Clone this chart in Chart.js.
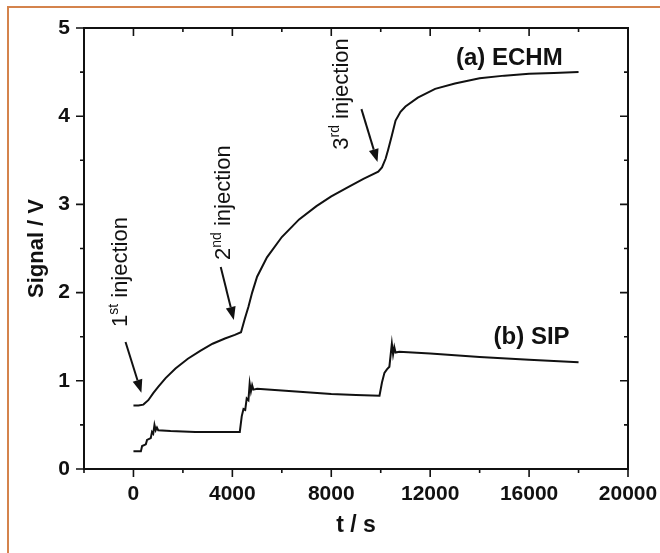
<!DOCTYPE html>
<html>
<head>
<meta charset="utf-8">
<script src="https://cdn.jsdelivr.net/npm/chart.js@4/dist/chart.umd.min.js"></script>
<style>
  html, body { margin: 0; padding: 0; background: #fff; }
  #wrap { position: relative; width: 660px; height: 553px; overflow: hidden; background: #fff; }
  #edge { position: absolute; left: 7px; top: 6px; width: 720px; height: 620px;
          border: 2px solid #d4834c; box-sizing: border-box; }
  #c { position: absolute; left: 0; top: 0; }
</style>
</head>
<body>
<div id="wrap"><div id="edge"></div><canvas id="c" width="660" height="553"></canvas></div>
<script>
// Electrochemical hydrogen monitor response, t in seconds
const echmTime = [0, 200, 400, 600, 800, 1000, 1300, 1700, 2200, 2700, 3200, 3700, 4100, 4350,
  4500, 4650, 4800, 5000, 5400, 6000, 6700, 7400, 8000, 8700, 9300, 9900, 10050,
  10200, 10300, 10450, 10600, 10800, 11000, 11500, 12200, 13000, 14000, 15000, 16000, 17000, 18000];
const echmSignal = [0.72, 0.72, 0.73, 0.78, 0.86, 0.93, 1.03, 1.14, 1.25, 1.34, 1.42, 1.48, 1.52, 1.55,
  1.70, 1.84, 2.00, 2.18, 2.40, 2.63, 2.83, 2.98, 3.09, 3.20, 3.29, 3.37, 3.42,
  3.52, 3.62, 3.78, 3.95, 4.05, 4.11, 4.21, 4.31, 4.37, 4.43, 4.46, 4.48, 4.49, 4.50];

// Solid-state sensor (SIP) response
const sipTime = [0, 300, 350, 500, 550, 700, 750, 800, 850, 900, 950, 1000, 1500, 2500, 3500, 4300,
  4380, 4450, 4520, 4580, 4650, 4700, 4750, 4800, 4850, 5000, 6000, 7000, 8000, 9000, 9950,
  10050, 10150, 10250, 10350, 10450, 10500, 10550, 10600, 10750, 12000, 14000, 16000, 18000];
const sipSignal = [0.20, 0.20, 0.26, 0.28, 0.33, 0.35, 0.42, 0.40, 0.50, 0.44, 0.47, 0.44, 0.43, 0.42, 0.42, 0.42,
  0.60, 0.68, 0.67, 0.80, 0.78, 0.97, 0.88, 0.95, 0.90, 0.91, 0.89, 0.87, 0.85, 0.84, 0.83,
  0.98, 1.09, 1.13, 1.16, 1.42, 1.30, 1.38, 1.32, 1.33, 1.31, 1.27, 1.24, 1.21];

const xLabelValues = [0, 4000, 8000, 12000, 16000, 20000];
const yLabelValues = [0, 1, 2, 3, 4, 5];

// Injection call-outs: arrows and rotated captions, in data units
const injectionArrows = [
  { from: [-320, 1.44], to: [320, 0.865] },
  { from: [3530, 2.29], to: [4060, 1.69] },
  { from: [9220, 4.08], to: [9870, 3.48] }
];
const injectionCaptions = [
  { at: [-490, 1.61], num: '1', sup: 'st' },
  { at: [3650, 2.37], num: '2', sup: 'nd' },
  { at: [8450, 3.62], num: '3', sup: 'rd' }
];
const seriesCaptions = [
  { at: [15200, 4.66], text: '(a) ECHM' },
  { at: [16100, 1.49], text: '(b) SIP' }
];

const FAMILY = '"Liberation Sans", Arial, Helvetica, sans-serif';
const INK = '#111';

const toPoints = (xs, ys) => xs.map((t, i) => ({ x: t, y: ys[i] }));

const frameAndNotes = {
  id: 'frameAndNotes',
  afterDraw(chart) {
    const { ctx, chartArea: a, scales: { x, y } } = chart;
    ctx.save();
    ctx.strokeStyle = INK;
    ctx.fillStyle = INK;

    // axis box
    ctx.lineWidth = 2;
    ctx.strokeRect(a.left, a.top, a.right - a.left, a.bottom - a.top);

    // tick marks: outward on bottom/left, mirrored inward on top/right
    ctx.lineWidth = 1.6;
    ctx.beginPath();
    x.ticks.forEach(t => {
      const px = x.getPixelForValue(t.value);
      const len = xLabelValues.includes(t.value) ? 8 : 4;
      ctx.moveTo(px, a.bottom); ctx.lineTo(px, a.bottom + len);
      ctx.moveTo(px, a.top); ctx.lineTo(px, a.top + len);
    });
    y.ticks.forEach(t => {
      const py = y.getPixelForValue(t.value);
      const len = yLabelValues.includes(t.value) ? 8 : 4;
      ctx.moveTo(a.left, py); ctx.lineTo(a.left - len, py);
      ctx.moveTo(a.right, py); ctx.lineTo(a.right - len, py);
    });
    ctx.stroke();

    // arrows
    injectionArrows.forEach(ar => {
      const x0 = x.getPixelForValue(ar.from[0]), y0 = y.getPixelForValue(ar.from[1]);
      const x1 = x.getPixelForValue(ar.to[0]), y1 = y.getPixelForValue(ar.to[1]);
      const ang = Math.atan2(y1 - y0, x1 - x0);
      const head = 13, half = 5;
      const bx = x1 - head * Math.cos(ang), by = y1 - head * Math.sin(ang);
      ctx.lineWidth = 2;
      ctx.beginPath();
      ctx.moveTo(x0, y0); ctx.lineTo(bx, by);
      ctx.stroke();
      ctx.beginPath();
      ctx.moveTo(x1, y1);
      ctx.lineTo(bx + half * Math.sin(ang), by - half * Math.cos(ang));
      ctx.lineTo(bx - half * Math.sin(ang), by + half * Math.cos(ang));
      ctx.closePath();
      ctx.fill();
    });

    // rotated injection captions with superscript ordinals
    injectionCaptions.forEach(c => {
      const px = x.getPixelForValue(c.at[0]), py = y.getPixelForValue(c.at[1]);
      ctx.save();
      ctx.translate(px, py);
      ctx.rotate(-Math.PI / 2);
      ctx.textAlign = 'left';
      ctx.textBaseline = 'middle';
      let cx = 0;
      ctx.font = '22px ' + FAMILY;
      ctx.fillText(c.num, cx, 0);
      cx += ctx.measureText(c.num).width;
      ctx.font = '14px ' + FAMILY;
      ctx.fillText(c.sup, cx, -7);
      cx += ctx.measureText(c.sup).width;
      ctx.font = '22px ' + FAMILY;
      ctx.fillText(' injection', cx, 0);
      ctx.restore();
    });

    // series captions
    ctx.font = 'bold 24px ' + FAMILY;
    ctx.textAlign = 'center';
    ctx.textBaseline = 'middle';
    seriesCaptions.forEach(c => {
      ctx.fillText(c.text, x.getPixelForValue(c.at[0]), y.getPixelForValue(c.at[1]));
    });

    ctx.restore();
  }
};

new Chart(document.getElementById('c'), {
  type: 'line',
  data: {
    datasets: [
      { label: '(a) ECHM', data: toPoints(echmTime, echmSignal), borderColor: INK, borderWidth: 2,
        pointRadius: 0, tension: 0, fill: false },
      { label: '(b) SIP', data: toPoints(sipTime, sipSignal), borderColor: INK, borderWidth: 2,
        pointRadius: 0, tension: 0, fill: false }
    ]
  },
  options: {
    responsive: false,
    animation: false,
    devicePixelRatio: 1,
    layout: { padding: { left: 0, top: 28, right: 32, bottom: 0 } },
    plugins: { legend: { display: false }, tooltip: { enabled: false } },
    scales: {
      x: {
        type: 'linear', min: -2000, max: 20000,
        afterFit(s) { s.height = 84; s.paddingLeft = 0; s.paddingRight = 0; },
        grid: { display: false, drawTicks: false },
        border: { display: false },
        ticks: {
          stepSize: 2000, autoSkip: false, maxRotation: 0, padding: 13, color: INK,
          font: { family: FAMILY, size: 21, weight: 'bold' },
          callback: v => xLabelValues.includes(v) ? String(v) : ''
        },
        title: {
          display: true, text: 't / s', color: INK,
          font: { family: FAMILY, size: 23, weight: 'bold' },
          padding: { top: 0, bottom: 14 }
        }
      },
      y: {
        type: 'linear', min: 0, max: 5,
        afterFit(s) { s.width = 84; s.paddingTop = 0; s.paddingBottom = 0; },
        grid: { display: false, drawTicks: false },
        border: { display: false },
        ticks: {
          stepSize: 0.5, autoSkip: false, padding: 14, color: INK,
          font: { family: FAMILY, size: 21, weight: 'bold' },
          callback: v => yLabelValues.includes(v) ? String(v) : ''
        },
        title: {
          display: true, text: 'Signal / V', color: INK,
          font: { family: FAMILY, size: 22, weight: 'bold' },
          padding: { top: 24, bottom: 0 }
        }
      }
    }
  },
  plugins: [frameAndNotes]
});
</script>
</body>
</html>
